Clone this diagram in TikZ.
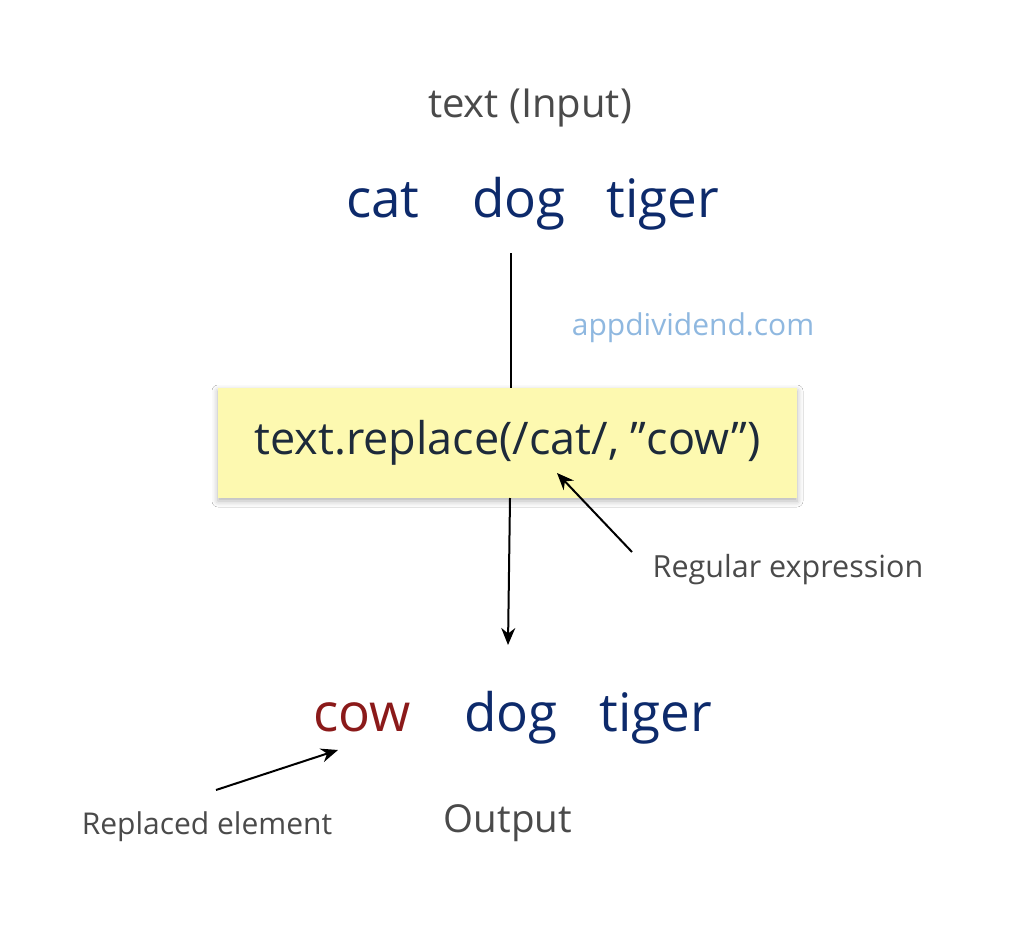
\documentclass[tikz,border=0pt]{standalone}
\usepackage{fontspec}
\setmainfont{Open Sans}
\usetikzlibrary{arrows.meta,shadows.blur}
\definecolor{gr}{HTML}{4A4A4A}
\definecolor{db}{HTML}{0D2A6B}
\definecolor{lb}{HTML}{8FB8E0}
\definecolor{yb}{HTML}{FDF9B0}
\definecolor{dr}{HTML}{8B1A1A}
\definecolor{cd}{HTML}{1D2A3A}
\tikzset{
 word/.style={text=db,font=\fontsize{53}{58}\selectfont,inner sep=0pt,anchor=base},
 lab/.style={text=gr,font=\fontsize{30.5}{34}\selectfont,inner sep=0pt},
 big/.style={text=gr,font=\fontsize{39}{44}\selectfont,inner sep=0pt},
 arr/.style={-{Stealth[length=17pt,width=14pt]},line width=2pt,black}
}
\begin{document}
\begin{tikzpicture}[x=1pt,y=-1pt]
\useasboundingbox[fill=white] (0,0) rectangle (1024,928);
\node[big,font=\fontsize{40}{44}\selectfont] (in) at (530,108) {text (Input)};
\node[word] (cat) at (383,217) {cat};
\node[word] (dog) at (519,217) {dog};
\node[word] (tig) at (663,217) {tiger};
\node[text=lb,font=\fontsize{30}{34}\selectfont,inner sep=0pt] (web) at (693,328) {appdividend.com};
\coordinate (t1) at (511,253);
\node[fill=yb,minimum width=579pt,minimum height=110pt,inner sep=0pt,
 blur shadow={shadow xshift=0pt,shadow yshift=-3pt,shadow blur radius=6pt,shadow opacity=30},
 text=cd,font=\fontsize{45}{50}\selectfont] (box) at (507.5,443) {text.replace(/cat/, \symbol{34}cow\symbol{34})};
\draw[line width=2pt] (t1) -- (box.north -| t1);
\coordinate (b1) at (510,498);
\coordinate (b2) at (508,645);
\draw[arr] (b1) -- (b2);
\node[lab] (re) at (788,570) {Regular expression};
\coordinate (r1) at (632,552);
\coordinate (r2) at (557,473);
\draw[arr] (r1) -- (r2);
\node[word,text=dr] (cow) at (362,731) {cow};
\node[word] (dog2) at (511,731) {dog};
\node[word] (tig2) at (656,731) {tiger};
\coordinate (p1) at (216,790);
\coordinate (p2) at (338,750);
\draw[arr] (p1) -- (p2);
\node[lab,font=\fontsize{30}{34}\selectfont] (rep) at (207,827) {Replaced element};
\node[big,font=\fontsize{38.5}{42}\selectfont] (out) at (508,823) {Output};
\end{tikzpicture}
\end{document}
